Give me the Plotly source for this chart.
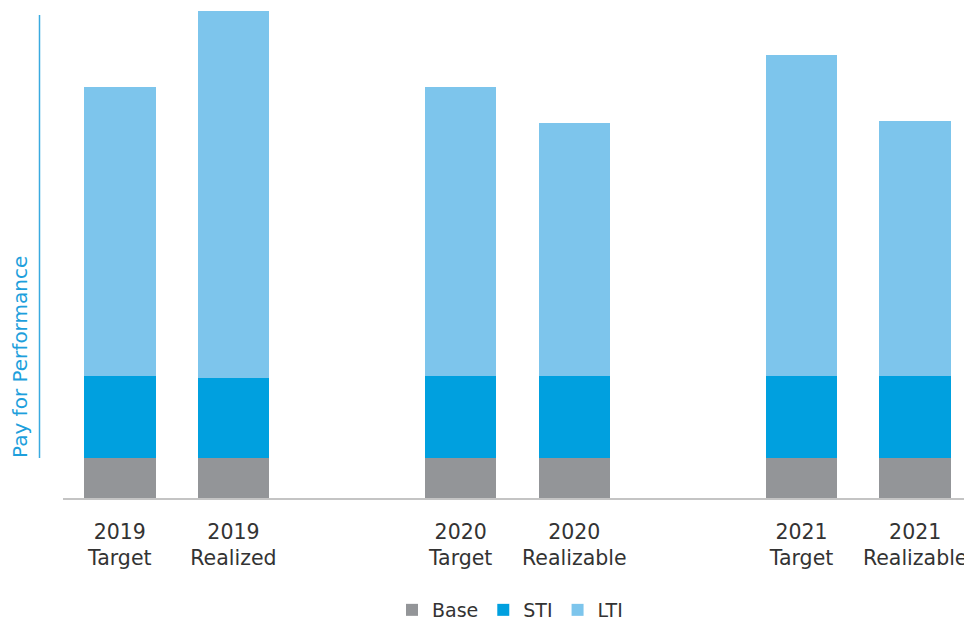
import plotly.graph_objects as go

# ---- data (arbitrary units) ----
years = ["2019", "2019", "2020", "2020", "2021", "2021"]
kinds = ["Target", "Realized", "Target", "Realizable", "Target", "Realizable"]
base = [10, 10, 10, 10, 10, 10]
sti = [20.6, 20.1, 20.6, 20.6, 20.6, 20.6]
lti = [72.2, 91.7, 72.2, 63.2, 80.2, 63.7]

series_names = ["Base", "STI", "LTI"]
series_colors = ["#939598", "#00a0df", "#7dc5ec"]

# bars are laid out in groups of two with one empty slot between groups
slots = [(i // 2) * 3 + (i % 2) for i in range(len(years))]
labels = [f"{y}<br>{k}" for y, k in zip(years, kinds)]

OFF = 8  # page body margin
W, H = 972 - OFF, 624 - OFF
L, R, T, B = 55, 0, 2, 126
plot_w = W - L - R
plot_h = H - T - B

fig = go.Figure()
for name, vals, col in zip(series_names, [base, sti, lti], series_colors):
    fig.add_trace(go.Bar(x=slots, y=vals, name=name, marker_color=col,
                         marker_line_width=0, width=0.63))


def px_x(px):
    return (px - OFF - L) / plot_w


def px_y(py):
    return (H - B - (py - OFF)) / plot_h


font_family = "DejaVu Sans"
fig.update_layout(
    barmode="stack",
    width=W, height=H,
    margin=dict(l=L, r=R, t=T, b=B, autoexpand=False),
    paper_bgcolor="white", plot_bgcolor="white",
    font=dict(family=font_family, color="#333333", size=20),
    showlegend=True,
    legend=dict(orientation="h", x=px_x(510), xanchor="center", y=px_y(591), yanchor="top",
                font=dict(size=19, color="#333333"), traceorder="normal",
                bgcolor="rgba(0,0,0,0)"),
    xaxis=dict(range=[-0.5, 7.5], tickvals=slots, ticktext=labels,
               showline=True, linecolor="#c4c4c4", linewidth=2,
               showgrid=False, zeroline=False, ticks="",
               ticklabelstandoff=14,
               tickfont=dict(size=20.5, color="#333333")),
    yaxis=dict(range=[0, 122], showticklabels=False, showgrid=False,
               zeroline=False, showline=False, ticks=""),
)

fig.add_shape(type="line", xref="paper", yref="paper",
              x0=px_x(39.5), x1=px_x(39.5), y0=px_y(15), y1=px_y(458),
              line=dict(color="#3aaae0", width=1.5))
fig.add_annotation(text="Pay for Performance", xref="paper", yref="paper",
                   x=px_x(20), y=px_y(460), xanchor="center", yanchor="bottom",
                   textangle=-90, showarrow=False,
                   font=dict(size=20, color="#1e9fdc", family=font_family))

fig.write_html("out.html")
